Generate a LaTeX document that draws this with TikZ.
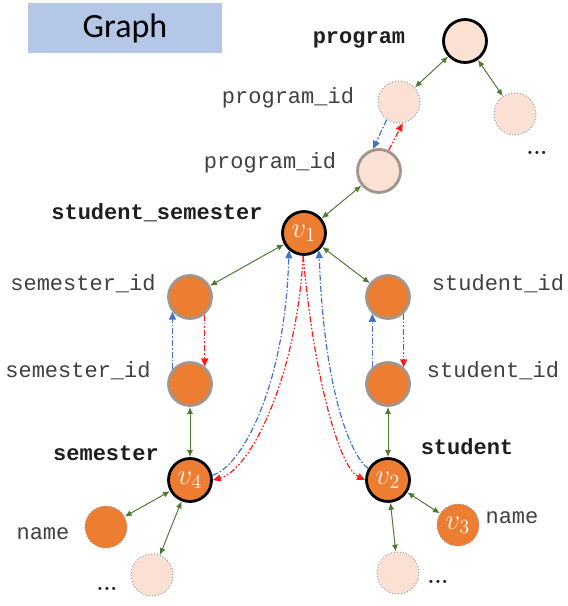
\documentclass[tikz,border=0pt]{standalone}
\usepackage{fontspec}
\usepackage{amsmath}
\setmonofont{Liberation Mono}
\newfontfamily\titlefont{Carlito}
\usetikzlibrary{arrows.meta}
\definecolor{titlebg}{HTML}{B4C7E7}
\definecolor{peach}{HTML}{FBE1D4}
\definecolor{tblorange}{HTML}{ED7D31}
\definecolor{keyedge}{HTML}{A0968E}
\definecolor{attredge}{HTML}{9A9A9A}
\definecolor{relgreen}{HTML}{4F7A35}
\definecolor{fwdblue}{HTML}{4472C4}
\definecolor{bwdred}{HTML}{FF1A1A}
\definecolor{lblgray}{HTML}{404040}
\definecolor{lblink}{HTML}{1E1E1E}
\tikzset{
  titlebox/.style = {rectangle, fill=titlebg, minimum width=97pt, minimum height=25pt,
                     inner sep=0pt, font=\titlefont\fontsize{17}{20}\selectfont},
  vtx/.style      = {circle, minimum size=21.5pt, inner sep=0pt,
                     font=\fontsize{14}{16}\selectfont, text=white!92!tblorange},
  ent/.style      = {vtx, draw=black, line width=1.4pt},
  keyn/.style     = {vtx, draw=keyedge, line width=1.4pt},
  attr/.style     = {vtx, minimum size=21pt, draw=attredge, line width=0.5pt, densely dotted},
  lbl/.style      = {anchor=mid, inner sep=0pt, font=\ttfamily\fontsize{11}{13}\selectfont, text=lblgray},
  tbllbl/.style   = {lbl, font=\ttfamily\bfseries\fontsize{11}{13}\selectfont, text=lblink},
  more/.style     = {inner sep=0pt, font=\bfseries\fontsize{11}{13}\selectfont, text=lblink},
  rel/.style      = {{Latex[length=3.5pt,width=3pt]}-{Latex[length=3.5pt,width=3pt]},
                     line width=0.5pt, draw=relgreen},
  fwd/.style      = {-{Triangle[length=4pt,width=3.5pt]}, line width=0.6pt, draw=fwdblue,
                     dash pattern=on 3pt off 1pt on 0.8pt off 1pt},
  bwd/.style      = {-{Triangle[length=4pt,width=3.5pt]}, line width=0.6pt, draw=bwdred,
                     dash pattern=on 3pt off 1pt on 0.8pt off 1pt on 0.8pt off 1pt},
}

\begin{document}
\begin{tikzpicture}[x=0.5pt, y=-0.5pt]
\useasboundingbox (0,0) rectangle (568,606);

% ---- Title ----
\node[titlebox] (title) at (125,28) {Graph};

% ---- program table ----
\node[ent, fill=peach] (prog) at (465,41) {};
\node[attr, fill=peach] (pid1) at (399,102) {};
\node[attr, fill=peach] (prog2) at (515,114) {};
\node[tbllbl] (progl) at (359,39) {program};
\node[lbl] (pid1l) at (288,99) {program\_id};
\node[more] (progdots) at (537,153) {...};

% ---- student_semester table ----
\node[keyn, fill=peach] (pid2) at (379,171) {};
\node[ent, fill=tblorange] (v1) at (304,233) {$v_1$};
\node[keyn, fill=tblorange] (sid1) at (190,297) {};
\node[keyn, fill=tblorange] (stid1) at (388,297) {};
\node[lbl] (pid2l) at (270,164) {program\_id};
\node[tbllbl] (ssl) at (157,215) {student\_semester};
\node[lbl] (sid1l) at (83,286) {semester\_id};
\node[lbl] (stid1l) at (498,286) {student\_id};

% ---- semester table ----
\node[keyn, fill=tblorange] (sid2) at (190,384) {};
\node[ent, fill=tblorange] (v4) at (190,480) {$v_4$};
\node[attr, fill=tblorange] (sname) at (106,527) {};
\node[attr, fill=peach] (sdots) at (152,575) {};
\node[lbl] (sid2l) at (78,373) {semester\_id};
\node[tbllbl] (seml) at (106,456) {semester};
\node[lbl] (snamel) at (43,535) {name};
\node[more] (sdotsl) at (107,589) {...};

% ---- student table ----
\node[keyn, fill=tblorange] (stid2) at (388,384) {};
\node[ent, fill=tblorange] (v2) at (388,480) {$v_2$};
\node[attr, fill=tblorange] (v3) at (458,525) {$v_3$};
\node[attr, fill=peach] (tdots) at (398,573) {};
\node[lbl] (stid2l) at (493,373) {student\_id};
\node[tbllbl] (stul) at (467,450) {student};
\node[lbl] (tnamel) at (512,519) {name};
\node[more] (tdotsl) at (438,582) {...};

% ===== Tuple-attribute edges =====
\draw[rel] (prog) -- (pid1);
\draw[rel] (prog) -- (prog2);
\draw[rel] (pid2) -- (v1);
\draw[rel] (v1) -- (sid1);
\draw[rel] (v1) -- (stid1);
\draw[rel] (sid2) -- (v4);
\draw[rel] (stid2) -- (v2);
\draw[rel] (v4) -- (sname);
\draw[rel] (v4) -- (sdots);
\draw[rel] (v2) -- (v3);
\draw[rel] (v2) -- (tdots);

% ===== Key links (blue one way, red the other) =====
\draw[fwd] (pid1.235) -- (pid2.105);
\draw[bwd] (pid2.65) -- (pid1.-80);
\draw[fwd] (sid2.140) -- (sid1.220);
\draw[bwd] (sid1.-50) -- (sid2.50);
\draw[fwd] (stid2.133) -- (stid1.227);
\draw[bwd] (stid1.-47) -- (stid2.47);

% ===== Tuple-to-tuple links =====
\draw[bwd] (v1.268) .. controls (296,380) and (250,470) .. (v4.east);
\draw[fwd] (v4.12) .. controls (240,468) and (285,390) .. (v1.229);
\draw[bwd] (v1.268) .. controls (314,380) and (340,468) .. (v2.west);
\draw[fwd] (v2.150) .. controls (350,455) and (324,390) .. (v1.311);

\end{tikzpicture}
\end{document}
